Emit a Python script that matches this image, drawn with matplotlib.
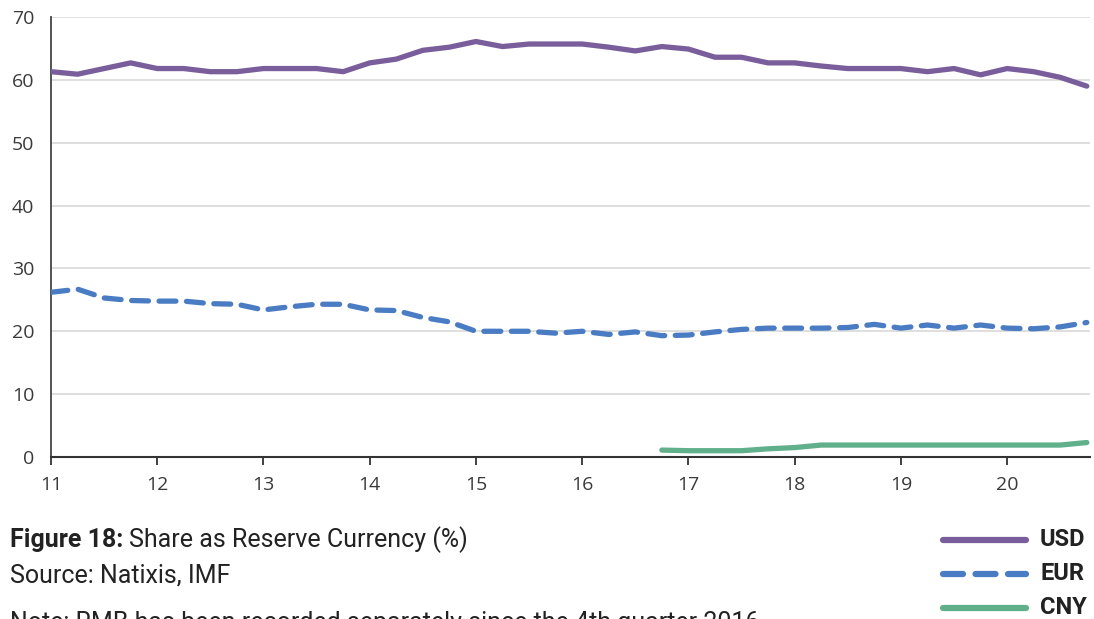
import numpy as np
import matplotlib
matplotlib.use("Agg")
import matplotlib.pyplot as plt
from matplotlib.lines import Line2D

# Quarterly data, 2011 Q1 .. 2020 Q4 (x = year - 2000)
quarters = np.arange(11, 21, 0.25)

usd = [61.3, 60.9, 61.8, 62.7, 61.8, 61.8, 61.3, 61.3, 61.8, 61.8,
       61.8, 61.3, 62.7, 63.3, 64.7, 65.2, 66.1, 65.3, 65.7, 65.7,
       65.7, 65.2, 64.6, 65.3, 64.9, 63.6, 63.6, 62.7, 62.7, 62.2,
       61.8, 61.8, 61.8, 61.3, 61.8, 60.8, 61.8, 61.3, 60.4, 59.0]

eur = [26.2, 26.7, 25.3, 24.9, 24.8, 24.8, 24.4, 24.3, 23.4, 23.9,
       24.3, 24.3, 23.4, 23.3, 22.2, 21.5, 20.0, 20.0, 20.0, 19.7,
       20.0, 19.5, 19.9, 19.3, 19.4, 19.9, 20.3, 20.5, 20.5, 20.5,
       20.6, 21.1, 20.5, 21.0, 20.5, 21.0, 20.5, 20.4, 20.7, 21.4]

# CNY reported separately from 2016 Q4
cny_quarters = np.arange(16.75, 21, 0.25)
cny = [1.1, 1.0, 1.0, 1.0, 1.3, 1.5, 1.9, 1.9, 1.9, 1.9,
       1.9, 1.9, 1.9, 1.9, 1.9, 1.9, 2.3]

year_ticks = list(range(11, 21))
y_ticks = list(range(0, 71, 10))

usd_col = "#7a5e9b"
eur_col = "#4a7cc4"
cny_col = "#5fb08b"
text_col = "#3a3a3a"

fig = plt.figure(figsize=(10.94, 6.19), dpi=100)
ax = fig.add_axes([51 / 1094, 1 - 457 / 619, (1090 - 51) / 1094, (457 - 17) / 619])

ax.plot(quarters, usd, color=usd_col, lw=3.8, solid_capstyle="round", zorder=3)
ax.plot(quarters, eur, color=eur_col, lw=3.8, ls=(0, (3.2, 2.0)),
        dash_capstyle="round", zorder=3)
ax.plot(cny_quarters, cny, color=cny_col, lw=3.8, solid_capstyle="round", zorder=3)

ax.set_xlim(11, 20.78)
ax.set_ylim(0, 70)
ax.set_xticks(year_ticks)
ax.set_yticks(y_ticks)
ax.grid(axis="y", color="#d9d9d9", lw=1.2, zorder=0)
ax.set_axisbelow(True)

for s in ["top", "right"]:
    ax.spines[s].set_visible(False)
ax.spines["left"].set_color("#444444")
ax.spines["bottom"].set_color("#333333")
ax.spines["left"].set_linewidth(1.3)
ax.spines["bottom"].set_linewidth(1.5)

ax.tick_params(axis="y", length=0, pad=12, labelsize=14, labelcolor=text_col)
ax.tick_params(axis="x", length=6, width=1.3, color="#333333", pad=8,
               labelsize=14, labelcolor=text_col)
for lab in ax.get_xticklabels() + ax.get_yticklabels():
    lab.set_family("Open Sans")

# caption
cap_font = ["Roboto", "DejaVu Sans"]
cap_y = 1 - 540 / 619
t1 = fig.text(10 / 1094, cap_y, "Figure 18:", fontsize=18, fontweight="bold",
              family=cap_font, color="#222222", va="center")
renderer = fig.canvas.get_renderer()
bb = t1.get_window_extent(renderer=renderer)
fig.text((bb.x1 + 6) / 1094, cap_y, "Share as Reserve Currency (%)", fontsize=18,
         family=cap_font, color="#222222", va="center")
fig.text(10 / 1094, 1 - 575 / 619, "Source: Natixis, IMF", fontsize=18,
         family=cap_font, color="#222222", va="center")
fig.text(10 / 1094, 1 - 611 / 619,
         "Note: RMB has been recorded separately since the 4th quarter 2016",
         fontsize=18, family=cap_font, color="#222222", va="top")

# legend at bottom right
legend_items = [("USD", usd_col, "-"), ("EUR", eur_col, (0, (3.2, 2.0))),
                ("CNY", cny_col, "-")]
for i, (name, col, style) in enumerate(legend_items):
    yy = 1 - (540 + i * 34) / 619
    fig.add_artist(Line2D([943 / 1094, 1026 / 1094], [yy, yy], color=col, lw=4.5,
                          ls=style, solid_capstyle="round", dash_capstyle="round",
                          transform=fig.transFigure))
    fig.text(1040 / 1094, yy, name, fontsize=17, fontweight="bold", family=cap_font,
             color="#222222", va="center")

fig.savefig("out.png", dpi=100)
